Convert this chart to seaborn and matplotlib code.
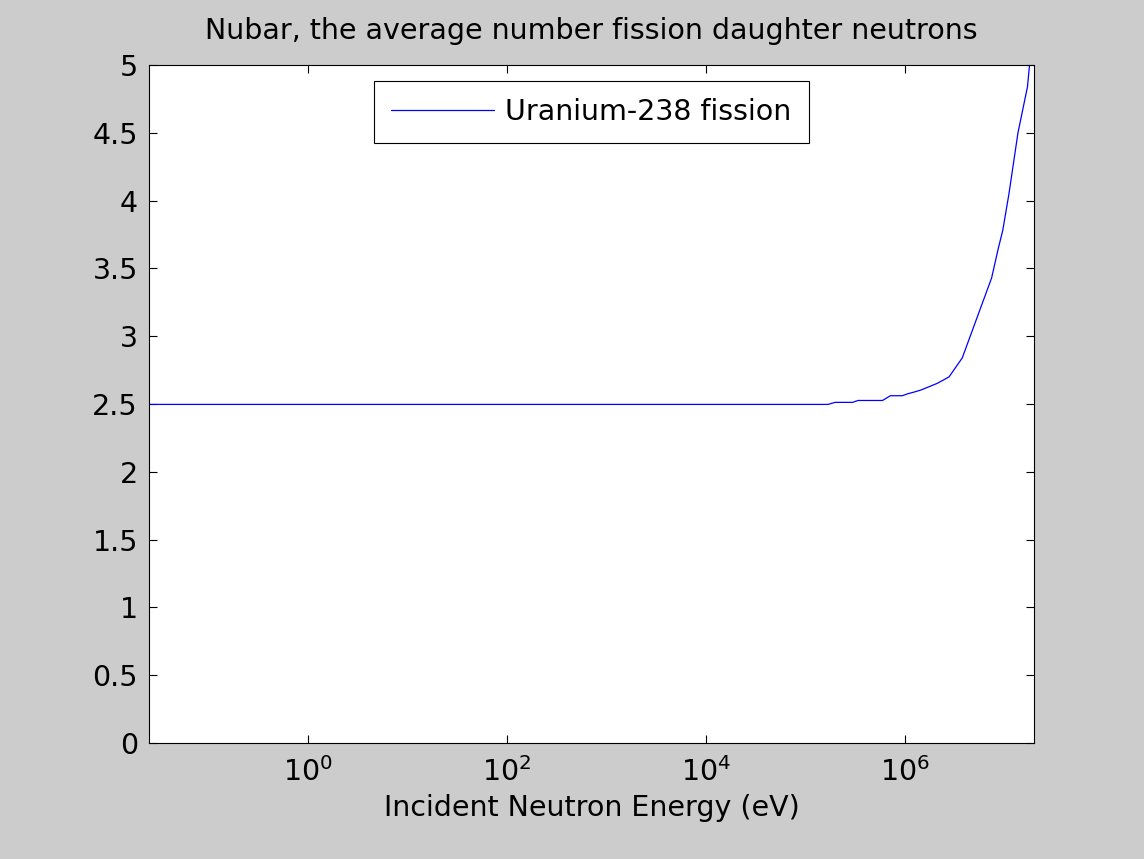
import matplotlib
matplotlib.use("Agg")
import matplotlib.pyplot as plt
import matplotlib.ticker as mticker
import seaborn as sns
import pandas as pd

# ---- data ----
energy_ev = [0.0253, 1.0, 1.0e2, 1.0e4, 1.7e5, 2.0e5, 3.0e5, 3.4e5, 6.0e5, 7.2e5,
             9.5e5, 1.07e6, 1.26e6, 1.46e6, 2.14e6, 2.8e6, 3.8e6, 7.5e6, 8.7e6,
             9.7e6, 1.12e7, 1.38e7, 1.72e7, 2.0e7]
nubar = [2.497, 2.497, 2.497, 2.497, 2.497, 2.512, 2.512, 2.526, 2.526, 2.561,
         2.561, 2.575, 2.589, 2.603, 2.653, 2.70, 2.84, 3.43, 3.64,
         3.78, 4.05, 4.50, 4.84, 5.35]
series_label = "Uranium-238 fission"
x_ticks = [1e0, 1e2, 1e4, 1e6]
y_ticks = [0, 0.5, 1, 1.5, 2, 2.5, 3, 3.5, 4, 4.5, 5]
y_tick_labels = ["0", "0.5", "1", "1.5", "2", "2.5", "3", "3.5", "4", "4.5", "5"]
title = "Nubar, the average number fission daughter neutrons"
x_label = "Incident Neutron Energy (eV)"

df = pd.DataFrame({"E": energy_ev, "nu": nubar})

sns.set_theme(style="ticks")
plt.rcParams["font.family"] = ["DejaVu Sans"]
plt.rcParams["axes.linewidth"] = 0.8
plt.rcParams["text.color"] = "black"
plt.rcParams["axes.labelcolor"] = "black"
plt.rcParams["xtick.color"] = "black"
plt.rcParams["ytick.color"] = "black"
plt.rcParams["xtick.labelcolor"] = "black"
plt.rcParams["ytick.labelcolor"] = "black"
fs = 20.5

fig = plt.figure(figsize=(11.44, 8.59), dpi=100, facecolor="#cccccc")
W, H = 1144, 859
ax = fig.add_axes([149 / W, 1 - 743 / H, (1034 - 149) / W, (743 - 65) / H])
ax.set_facecolor("white")

sns.lineplot(data=df, x="E", y="nu", ax=ax, color="#0000ff", linewidth=0.9,
             label=series_label, estimator=None, sort=False)

ax.set_xscale("log")
ax.set_xlim(0.0253, 2.0e7)
ax.set_ylim(0, 5)
ax.set_xticks(x_ticks)
ax.xaxis.set_major_formatter(mticker.LogFormatterMathtext())
ax.xaxis.set_minor_locator(mticker.NullLocator())
ax.set_yticks(y_ticks)
ax.set_yticklabels(y_tick_labels)

for s in ax.spines.values():
    s.set_visible(True)
    s.set_color("black")
    s.set_linewidth(0.8)

ax.tick_params(axis="both", which="major", direction="in", length=6, width=0.8,
               color="black", labelcolor="black", labelsize=fs, top=True, right=True)
ax.tick_params(axis="y", pad=8)
ax.tick_params(axis="x", pad=10)

ax.set_title(title, fontsize=fs, pad=19, color="black")
ax.set_xlabel(x_label, fontsize=fs, labelpad=5, color="black")
ax.set_ylabel("")

leg = ax.legend(loc="upper center", fontsize=fs, frameon=True, fancybox=False,
                framealpha=1, edgecolor="black", handlelength=3.6,
                handletextpad=0.4, borderpad=0.6, borderaxespad=0.55)
leg.get_frame().set_linewidth(0.8)
for t in leg.get_texts():
    t.set_color("black")

fig.savefig("out.png", dpi=100, facecolor=fig.get_facecolor())
